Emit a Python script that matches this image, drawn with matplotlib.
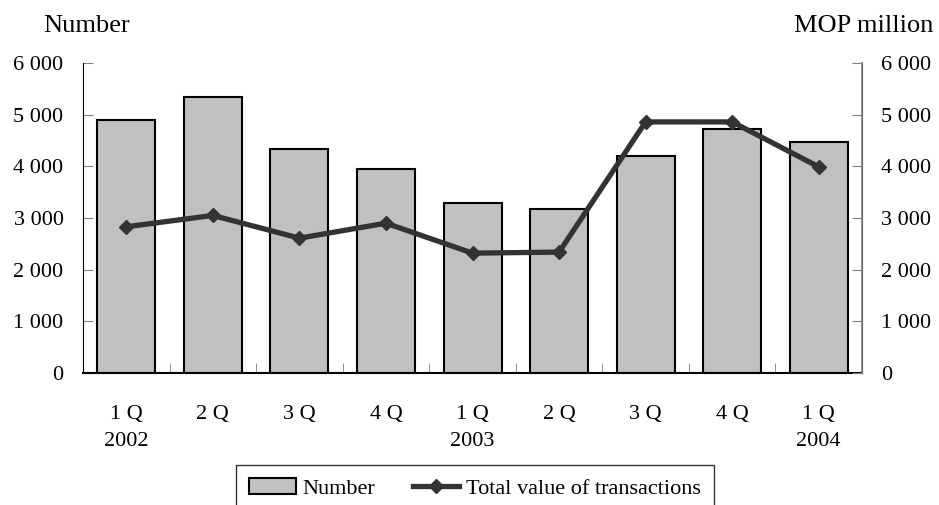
import numpy as np
import matplotlib
matplotlib.use('Agg')
import matplotlib.pyplot as plt

plt.rcParams['font.family'] = ['Liberation Serif', 'DejaVu Serif']

# Data
quarters = ["1 Q\n2002", "2 Q", "3 Q", "4 Q", "1 Q\n2003", "2 Q", "3 Q", "4 Q", "1 Q\n2004"]
number_of_transactions = [4890, 5340, 4335, 3950, 3290, 3170, 4200, 4720, 4470]
total_value_mop_million = [2830, 3050, 2610, 2900, 2320, 2340, 4860, 4860, 3990]
y_ticks = [0, 1000, 2000, 3000, 4000, 5000, 6000]
y_tick_labels = ["0", "1 000", "2 000", "3 000", "4 000", "5 000", "6 000"]

fig = plt.figure(figsize=(9.39, 5.05), dpi=100, facecolor='white')
ax = fig.add_axes([0.0884, 0.2614, 0.8296, 0.6138])
x = np.arange(len(quarters))

bars = ax.bar(x, number_of_transactions, width=0.67, color='#c0c0c0',
              edgecolor='black', linewidth=1.5, zorder=2)

ax2 = ax.twinx()
line, = ax2.plot(x, total_value_mop_million, color='#333333', lw=3.8,
                 marker='D', markersize=7.5, zorder=3)

for a in (ax, ax2):
    a.set_xlim(-0.5, len(quarters) - 0.5)
    a.set_ylim(0, 6000)
    a.set_yticks(y_ticks)
    a.set_yticklabels(y_tick_labels, fontsize=16)
    a.spines['top'].set_visible(False)

ax.tick_params(axis='y', direction='in', length=7, color='#808080', pad=14)
ax2.tick_params(axis='y', direction='in', length=7, color='#808080', pad=14)

# category labels at centers, boundary ticks pointing up
ax.set_xticks(x)
ax.set_xticklabels(quarters, fontsize=16, linespacing=1.6)
ax.tick_params(axis='x', which='major', length=0, pad=23)
ax.set_xticks(np.arange(0.5, len(quarters) - 1, 1.0), minor=True)
ax.tick_params(axis='x', which='minor', direction='in', length=7, color='#808080')

ax.spines['left'].set_color('black')
ax.spines['bottom'].set_color('black')
ax.spines['bottom'].set_linewidth(1.5)
ax2.spines['right'].set_color('#808080')
ax2.spines['right'].set_linewidth(1.2)
ax2.spines['left'].set_visible(False)
ax2.spines['bottom'].set_visible(False)

fig.text(43 / 939, 1 - 32 / 505, "Number", fontsize=19, ha='left', va='baseline')
fig.text(933 / 939, 1 - 32 / 505, "MOP million", fontsize=19, ha='right', va='baseline')

leg = fig.legend([bars, line], ["Number", "Total value of transactions"],
                 loc='upper center', bbox_to_anchor=(475 / 939, 1 - 465 / 505),
                 ncol=2, fontsize=16, frameon=True, fancybox=False,
                 edgecolor='black', handlelength=2.1, handletextpad=0.3,
                 columnspacing=1.7, borderpad=0.6, borderaxespad=0)
leg.get_frame().set_linewidth(1.0)

plt.savefig('out.png', dpi=100, facecolor='white')
plt.close()
